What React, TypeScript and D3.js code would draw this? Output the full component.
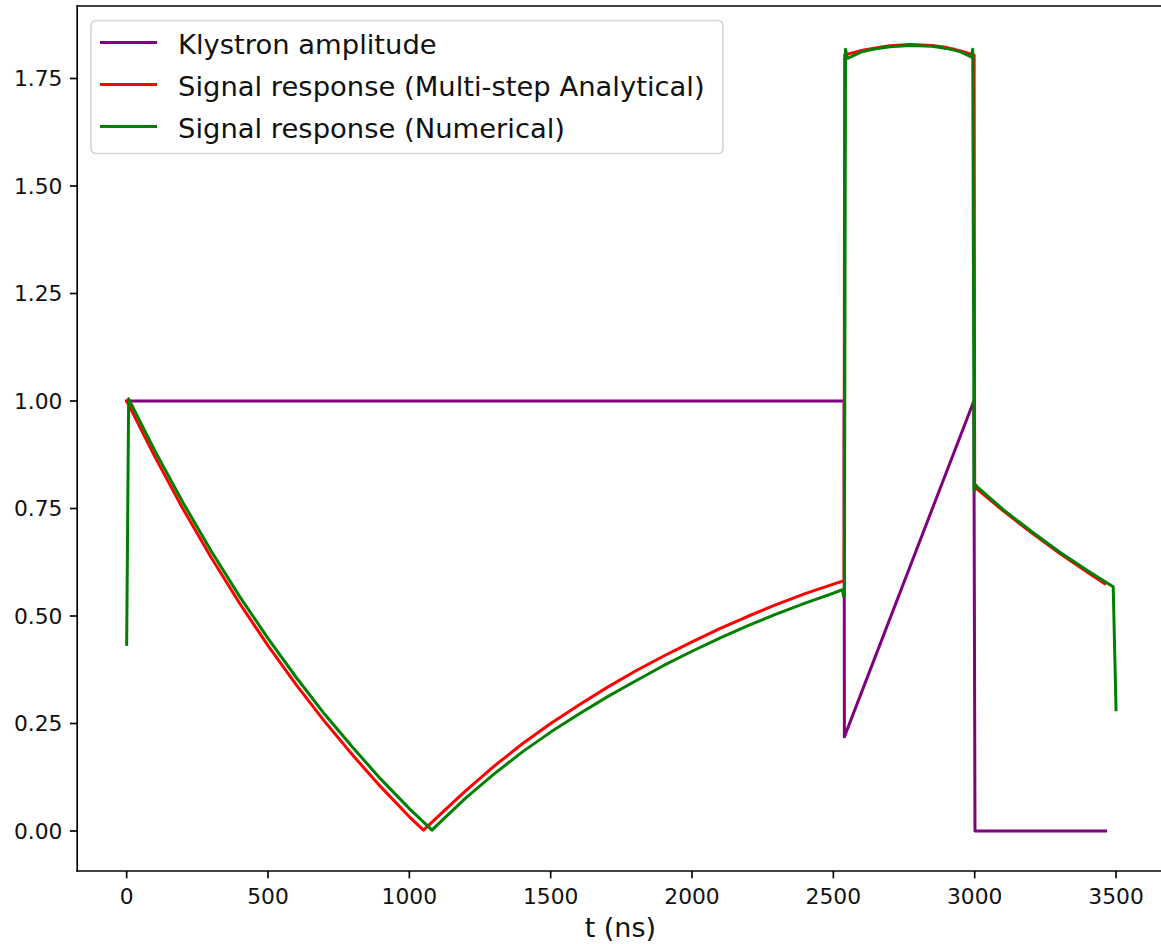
import React from "react";
import * as d3 from "d3";

// ---- data ----
const klystronT = [0, 2538, 2539, 2997, 3001, 3463];
const klystronA = [1.0, 1.0, 0.219, 1.0, 0.0, 0.0];

const analyticalT = [0, 100, 200, 300, 400, 500, 600, 700, 800, 900, 1000, 1050, 1100, 1200, 1300, 1400, 1500, 1600, 1700, 1800, 1900, 2000, 2100, 2200, 2300, 2400, 2500, 2538, 2540, 2600, 2650, 2700, 2770, 2850, 2900, 2950, 2998, 3000, 3100, 3200, 3300, 3400, 3460];
const analyticalV = [1.0, 0.87, 0.748, 0.635, 0.529, 0.431, 0.34, 0.255, 0.176, 0.102, 0.033, 0.002, 0.033, 0.094, 0.151, 0.203, 0.25, 0.293, 0.334, 0.372, 0.407, 0.44, 0.471, 0.5, 0.527, 0.552, 0.574, 0.582, 1.805, 1.815, 1.821, 1.826, 1.829, 1.827, 1.822, 1.814, 1.804, 0.8, 0.745, 0.694, 0.646, 0.601, 0.575];

const numericalT = [0, 7, 100, 200, 300, 400, 500, 600, 700, 800, 900, 1000, 1080, 1100, 1200, 1300, 1400, 1500, 1600, 1700, 1800, 1900, 2000, 2100, 2200, 2300, 2400, 2500, 2532, 2536, 2539, 2543, 2550, 2600, 2650, 2700, 2770, 2850, 2900, 2950, 2988, 2993, 2998, 3003, 3010, 3100, 3200, 3300, 3400, 3490, 3500];
const numericalV = [0.434, 1.005, 0.884, 0.763, 0.65, 0.545, 0.448, 0.357, 0.272, 0.194, 0.12, 0.052, 0.002, 0.015, 0.077, 0.133, 0.184, 0.23, 0.272, 0.312, 0.349, 0.385, 0.418, 0.449, 0.478, 0.505, 0.53, 0.553, 0.561, 0.546, 0.56, 1.818, 1.797, 1.812, 1.819, 1.824, 1.827, 1.825, 1.82, 1.812, 1.8, 1.818, 0.79, 0.805, 0.8, 0.748, 0.697, 0.649, 0.605, 0.568, 0.282];

const xTicks = [0, 500, 1000, 1500, 2000, 2500, 3000, 3500];
const yTicks = [0.0, 0.25, 0.5, 0.75, 1.0, 1.25, 1.5, 1.75];

const seriesNames = [
  "Klystron amplitude",
  "Signal response (Multi-step Analytical)",
  "Signal response (Numerical)",
];
const seriesColors = ["purple", "red", "green"];

export default function App() {
  const W = 1161;
  const H = 944;
  const L = 77.2, R = 1165.5, T = 6, B = 871;
  const x = d3.scaleLinear().domain([-175, 3675]).range([L, R]);
  const y = d3.scaleLinear().domain([-0.093, 1.9186]).range([B, T]);
  const line = (ts: number[], vs: number[]) =>
    d3
      .line<number>()
      .x((_, i) => x(ts[i]))
      .y((v) => y(v))(vs) || "";

  const font = "'DejaVu Sans', sans-serif";
  const paths = [
    line(klystronT, klystronA),
    line(analyticalT, analyticalV),
    line(numericalT, numericalV),
  ];
  const legY = [42.5, 84.5, 126.5];

  return (
    <svg
      width={W}
      height={H}
      style={{ position: "absolute", left: 0, top: 0, background: "white" }}
      fontFamily={font}
    >
      <rect x={0} y={0} width={W} height={H} fill="white" />
      {paths.map((d, i) => (
        <path
          key={i}
          d={d}
          fill="none"
          stroke={seriesColors[i]}
          strokeWidth={3}
          strokeLinejoin="round"
          strokeLinecap="square"
        />
      ))}
      {/* spines */}
      <g stroke="black" strokeWidth={1.67} fill="none" strokeLinecap="square">
        <line x1={L} y1={T} x2={L} y2={B} />
        <line x1={L} y1={B} x2={R} y2={B} />
        <line x1={L} y1={T} x2={R} y2={T} />
        <line x1={R} y1={T} x2={R} y2={B} />
      </g>
      {/* x ticks */}
      {xTicks.map((t) => (
        <g key={"x" + t}>
          <line x1={x(t)} x2={x(t)} y1={B} y2={B + 7.3} stroke="black" strokeWidth={1.67} />
          <text x={x(t)} y={904} textAnchor="middle" fontSize={21.8} fill="#111">
            {String(t)}
          </text>
        </g>
      ))}
      {/* y ticks */}
      {yTicks.map((t) => (
        <g key={"y" + t}>
          <line x1={L - 7.3} x2={L} y1={y(t)} y2={y(t)} stroke="black" strokeWidth={1.67} />
          <text x={62.5} y={y(t) + 7.9} textAnchor="end" fontSize={21.8} fill="#111">
            {t.toFixed(2)}
          </text>
        </g>
      ))}
      <text x={(L + R) / 2 - 1} y={937} textAnchor="middle" fontSize={27} fill="#111">
        t (ns)
      </text>
      {/* legend */}
      <rect
        x={91}
        y={20.5}
        width={632}
        height={133}
        rx={5}
        fill="white"
        fillOpacity={0.8}
        stroke="#d6d6d6"
        strokeWidth={1.67}
      />
      {seriesNames.map((n, i) => (
        <g key={n}>
          <line
            x1={100}
            x2={157}
            y1={legY[i]}
            y2={legY[i]}
            stroke={seriesColors[i]}
            strokeWidth={3}
          />
          <text x={178} y={legY[i] + 11} fontSize={27.4} fill="#111">
            {n}
          </text>
        </g>
      ))}
    </svg>
  );
}
